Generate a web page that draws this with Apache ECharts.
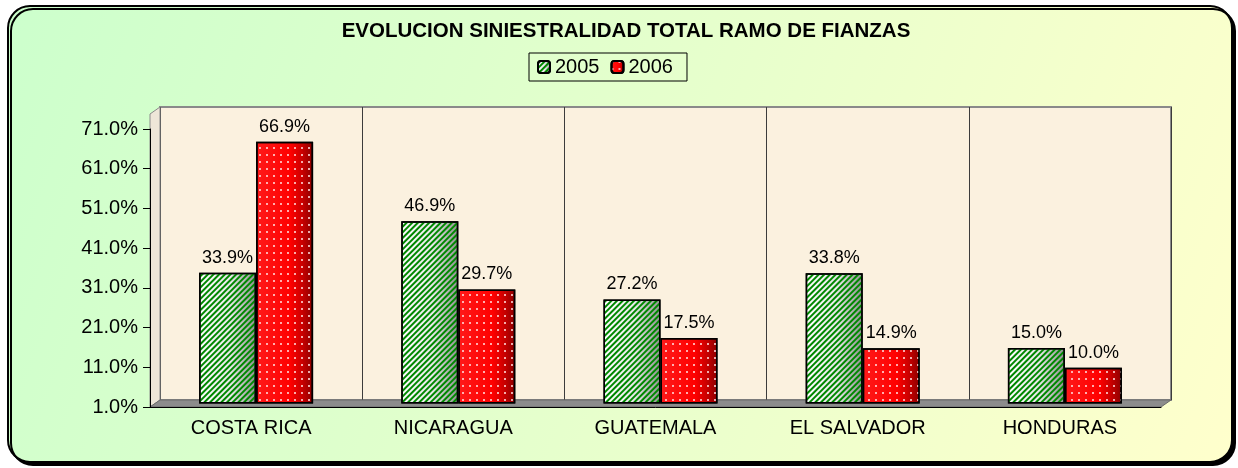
<!DOCTYPE html>
<html>
<head>
<meta charset="utf-8">
<script src="https://cdn.jsdelivr.net/npm/echarts@6/dist/echarts.min.js"></script>
<style>
  html, body { margin: 0; padding: 0; background: #fff; }
  #chart { width: 1238px; height: 468px; }
</style>
</head>
<body>
<div id="chart"></div>
<script>
// data
const categories = ['COSTA RICA', 'NICARAGUA', 'GUATEMALA', 'EL SALVADOR', 'HONDURAS'];
const seriesNames = ['2005', '2006'];
const values2005 = [33.9, 46.9, 27.2, 33.8, 15.0];
const values2006 = [66.9, 29.7, 17.5, 14.9, 10.0];
const axisBase = 1; // y axis starts at 1.0%
const axisTop = 71;
const axisStep = 10;

const font = 'Liberation Sans, Arial, sans-serif';

const chart = echarts.init(document.getElementById('chart'));

const greenStyle = {
    color: {
        type: 'linear', x: 0, y: 0, x2: 1, y2: 0,
        colorStops: [
            { offset: 0, color: '#ffffff' },
            { offset: 0.55, color: '#e8e8e8' },
            { offset: 1, color: '#8f8f8f' }
        ]
    },
    borderColor: '#000',
    borderWidth: 1.5,
    decal: {
        symbol: 'rect',
        symbolSize: 1,
        color: '#008800',
        dashArrayX: [1, 0],
        dashArrayY: [1.9, 1.7],
        rotation: -Math.PI / 4
    }
};
const redStyle = {
    color: {
        type: 'linear', x: 0, y: 0, x2: 1, y2: 0,
        colorStops: [
            { offset: 0, color: '#ff1a1a' },
            { offset: 0.6, color: '#ff0000' },
            { offset: 0.8, color: '#cc0000' },
            { offset: 1, color: '#8a0000' }
        ]
    },
    borderColor: '#000',
    borderWidth: 1.5,
    decal: {
        symbol: 'rect',
        symbolSize: 1,
        color: 'rgba(255,215,215,0.8)',
        dashArrayX: [1.5, 5],
        dashArrayY: [1.5, 5]
    }
};

function barSeries(name, values, style) {
    return {
        name: name,
        type: 'bar',
        xAxisIndex: 1,
        yAxisIndex: 1,
        barWidth: 57,
        barGap: '0%',
        data: values.map(v => v - axisBase),
        itemStyle: style,
        label: {
            show: true,
            position: 'top',
            distance: 6,
            color: '#000',
            fontFamily: font,
            fontSize: 18,
            formatter: p => (p.value + axisBase).toFixed(1) + '%'
        },
        z: 4
    };
}

const option = {
    backgroundColor: '#fff',
    animation: false,
    title: {
        text: 'EVOLUCION SINIESTRALIDAD TOTAL RAMO DE FIANZAS',
        left: 626,
        top: 21,
        textAlign: 'center',
        padding: 0,
        textStyle: { fontFamily: font, fontSize: 20.5, fontWeight: 'bold', color: '#000' }
    },
    legend: {
        data: seriesNames,
        left: 529,
        top: 53,
        padding: [4, 14, 4, 8],
        itemWidth: 12,
        itemHeight: 12,
        itemGap: 11,
        borderColor: '#000',
        borderWidth: 1,
        selectedMode: false,
        textStyle: { fontFamily: font, fontSize: 20, color: '#000' }
    },
    graphic: [
        {
            type: 'rect', z: -10,
            shape: { x: 8, y: 6, width: 1224, height: 456, r: 22 },
            style: {
                fill: {
                    type: 'linear', x: 0, y: 0, x2: 1, y2: 1,
                    colorStops: [
                        { offset: 0, color: '#ccffcc' },
                        { offset: 1, color: '#ffffcc' }
                    ]
                },
                stroke: '#000',
                lineWidth: 2,
                shadowColor: '#000',
                shadowOffsetX: 3,
                shadowOffsetY: 3
            }
        },
        {
            // left wall
            type: 'polygon', z: -1,
            shape: { points: [[150, 114], [160, 107], [160, 400], [150, 407]] },
            style: { fill: '#eee6d8', stroke: '#8a8a8a', lineWidth: 1 }
        },
        {
            // floor
            type: 'polygon', z: -1,
            shape: { points: [[150, 407], [160, 400], [1171, 400], [1161, 407]] },
            style: { fill: '#8c8c8c', stroke: '#6a6a6a', lineWidth: 1 }
        }
    ],
    grid: [
        { left: 150, right: 77, top: 129, bottom: 61, outerBoundsMode: 'none' },
        { left: 155, right: 72, top: 125.5, bottom: 64.5, outerBoundsMode: 'none' },
        {
            left: 160, right: 67, top: 107, bottom: 68, outerBoundsMode: 'none',
            show: true, backgroundColor: '#fbf1df', borderColor: '#8a8a8a', borderWidth: 2, z: -5
        }
    ],
    xAxis: [
        {
            gridIndex: 0,
            type: 'category',
            data: categories,
            z: 5,
            axisLine: { lineStyle: { color: '#000', width: 1 } },
            axisTick: { length: 5, lineStyle: { color: '#000' } },
            axisLabel: { fontFamily: font, fontSize: 20, color: '#000', margin: 11 }
        },
        { gridIndex: 1, type: 'category', data: categories, show: false },
        {
            gridIndex: 2,
            type: 'category',
            data: categories,
            z: -4,
            axisLine: { show: false },
            axisTick: { show: false },
            axisLabel: { show: false },
            splitLine: { show: true, lineStyle: { color: '#3c3c3c', width: 1 } }
        }
    ],
    yAxis: [
        {
            gridIndex: 0,
            type: 'value',
            min: 0,
            max: axisTop - axisBase,
            interval: axisStep,
            z: 5,
            axisLine: { show: true, lineStyle: { color: '#000', width: 1 } },
            axisTick: { show: true, length: 7, lineStyle: { color: '#000' } },
            splitLine: { show: false },
            axisLabel: {
                fontFamily: font, fontSize: 20, color: '#000', margin: 12,
                formatter: v => (v + axisBase).toFixed(1) + '%'
            }
        },
        { gridIndex: 1, type: 'value', min: 0, max: axisTop - axisBase, show: false },
        { gridIndex: 2, type: 'value', show: false }
    ],
    series: [
        barSeries(seriesNames[0], values2005, greenStyle),
        barSeries(seriesNames[1], values2006, redStyle)
    ]
};
chart.setOption(option);
</script>
</body>
</html>
